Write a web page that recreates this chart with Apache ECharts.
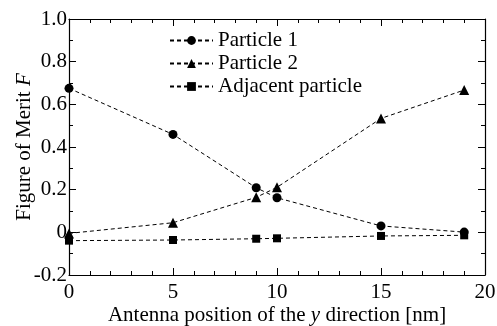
<!DOCTYPE html>
<html>
<head>
<meta charset="utf-8">
<script src="https://cdn.jsdelivr.net/npm/echarts@6/dist/echarts.min.js"></script>
<style>
  html, body { margin: 0; padding: 0; background: #fff; }
  #main { width: 497px; height: 326px; }
</style>
</head>
<body>
<div id="main"></div>
<script>
// 天线位置 (nm)
const positions = [0, 5, 9, 10, 15, 19];
const particle1 = [0.675, 0.459, 0.209, 0.162, 0.030, 0.001];
const particle2 = [-0.005, 0.045, 0.164, 0.211, 0.534, 0.667];
const adjacent = [-0.039, -0.036, -0.030, -0.028, -0.017, -0.014];
const seriesNames = ["Particle 1", "Particle 2", "Adjacent particle"];
const seriesSymbols = ["circle", "triangle", "rect"];
const seriesSizes = [9, 10, 8];

const font = "Liberation Serif";
const fs = 21;
const chart = echarts.init(document.getElementById("main"));

// 坐标轴公共样式
const axisBase = {
  axisLine: { show: true, onZero: false, lineStyle: { color: "#000", width: 1.2 } },
  axisTick: { show: true, inside: true, length: 7, lineStyle: { color: "#000" } },
  minorTick: { show: true, length: 4, lineStyle: { color: "#000" } },
  splitLine: { show: false }
};

const toPairs = arr => positions.map((x, i) => [x, arr[i]]);
const values = [particle1, particle2, adjacent];

const nameStyle = {
  color: "#000", fontFamily: font, fontSize: fs,
  rich: { i: { fontStyle: "italic", fontFamily: font, fontSize: fs, color: "#000" } }
};

const option = {
  animation: false,
  textStyle: { fontFamily: font },
  grid: { left: 69, top: 19, right: 12, bottom: 51, outerBoundsMode: "none", containLabel: false },
  legend: {
    orient: "vertical",
    left: 169,
    top: 30,
    padding: 0,
    itemWidth: 43,
    itemHeight: 11,
    itemGap: 2,
    textStyle: { fontFamily: font, fontSize: fs, color: "#000" },
    data: seriesNames
  },
  xAxis: [
    Object.assign({}, axisBase, {
      type: "value",
      min: 0, max: 20, interval: 5,
      minorTick: Object.assign({}, axisBase.minorTick, { splitNumber: 5 }),
      axisLabel: { color: "#000", fontFamily: font, fontSize: fs, margin: 7 },
      name: "Antenna position of the {i|y} direction [nm]",
      nameLocation: "middle",
      nameGap: 30,
      nameMoveOverlap: false,
      nameTextStyle: nameStyle
    }),
    Object.assign({}, axisBase, {
      type: "value", position: "top",
      min: 0, max: 20, interval: 5,
      minorTick: Object.assign({}, axisBase.minorTick, { splitNumber: 5 }),
      axisLabel: { show: false }
    })
  ],
  yAxis: [
    Object.assign({}, axisBase, {
      type: "value",
      min: -0.2, max: 1.0, interval: 0.2,
      minorTick: Object.assign({}, axisBase.minorTick, { splitNumber: 2 }),
      axisLabel: {
        color: "#000", fontFamily: font, fontSize: fs, margin: 2,
        formatter: v => (Math.abs(v) < 1e-9 ? "0" : v.toFixed(1))
      },
      name: "Figure of Merit {i|F}",
      nameLocation: "middle",
      nameGap: 34,
      nameMoveOverlap: false,
      nameTextStyle: nameStyle
    }),
    Object.assign({}, axisBase, {
      type: "value", position: "right",
      min: -0.2, max: 1.0, interval: 0.2,
      minorTick: Object.assign({}, axisBase.minorTick, { splitNumber: 2 }),
      axisLabel: { show: false }
    })
  ],
  series: seriesNames.map((name, i) => ({
    name: name,
    type: "line",
    data: toPairs(values[i]),
    symbol: seriesSymbols[i],
    symbolSize: seriesSizes[i],
    showAllSymbol: true,
    itemStyle: { color: "#000" },
    lineStyle: { color: "#000", width: 1, type: [4, 3] },
    z: 3 + i
  }))
};

chart.setOption(option);
</script>
</body>
</html>
